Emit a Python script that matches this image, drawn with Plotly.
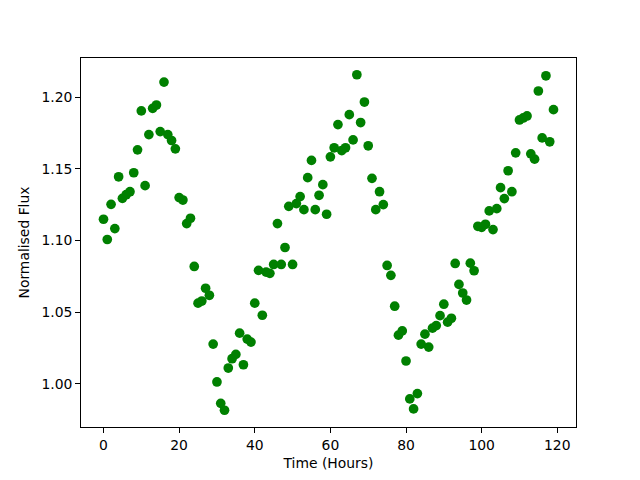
import plotly.graph_objects as go

hours = list(range(120))
flux = [
    1.1148, 1.1007, 1.1252, 1.1083, 1.1444, 1.1294, 1.1319, 1.1340, 1.1472, 1.1632,
    1.1903, 1.1382, 1.1738, 1.1921, 1.1944, 1.1759, 1.2104, 1.1738, 1.1697, 1.1639,
    1.1299, 1.1282, 1.1118, 1.1155, 1.0819, 1.0563, 1.0578, 1.0667, 1.0618, 1.0278,
    1.0014, 0.9865, 0.9817, 1.0111, 1.0176, 1.0206, 1.0354, 1.0134, 1.0313, 1.0292,
    1.0563, 1.0792, 1.0479, 1.0780, 1.0771, 1.0833, 1.1118, 1.0833, 1.0951, 1.1238,
    1.0833, 1.1257, 1.1306, 1.1215, 1.1438, 1.1558, 1.1215, 1.1315, 1.1389, 1.1183,
    1.1583, 1.1646, 1.1808, 1.1627, 1.1646, 1.1877, 1.1701, 1.2155, 1.1822, 1.1965,
    1.1660, 1.1433, 1.1215, 1.1340, 1.1250, 1.0826, 1.0757, 1.0542, 1.0340, 1.0370,
    1.0160, 0.9896, 0.9826, 0.9933, 1.0278, 1.0347, 1.0257, 1.0389, 1.0407, 1.0476,
    1.0556, 1.0431, 1.0458, 1.0840, 1.0694, 1.0634, 1.0585, 1.0842, 1.0789, 1.1099,
    1.1092, 1.1113, 1.1206, 1.1076, 1.1222, 1.1368, 1.1292, 1.1486, 1.1340, 1.1611,
    1.1840, 1.1854, 1.1868, 1.1604, 1.1567, 1.2042, 1.1715, 1.2148, 1.1688, 1.1912,
]
x_ticks = [0, 20, 40, 60, 80, 100, 120]
y_ticks = [1.00, 1.05, 1.10, 1.15, 1.20]

xm = (max(hours) - min(hours)) * 0.05
ym = (max(flux) - min(flux)) * 0.05

fig = go.Figure(go.Scatter(
    x=hours, y=flux, mode="markers",
    marker=dict(color="#008000", size=9.7, line=dict(width=0)),
))

font = dict(family="DejaVu Sans", size=13.9, color="black")
axis_common = dict(
    showline=True, linecolor="black", linewidth=1, mirror=True,
    ticks="outside", ticklen=4.9, tickwidth=1, tickcolor="black",
    showgrid=False, zeroline=False, tickfont=font, automargin=False,
)
fig.update_layout(
    width=640, height=480,
    margin=dict(l=72.5, r=71.7, t=50.3, b=60.7),
    paper_bgcolor="white", plot_bgcolor="white",
    showlegend=False,
    font=font,
    xaxis=dict(range=[min(hours) - xm, max(hours) + xm], tickvals=x_ticks,
               title=dict(text="Time (Hours)", font=font, standoff=6), **axis_common),
    yaxis=dict(range=[min(flux) - ym, max(flux) + ym], tickvals=y_ticks,
               tickformat=".2f",
               title=dict(text="Normalised Flux", font=font, standoff=8), **axis_common),
)
fig.write_html("out.html")
